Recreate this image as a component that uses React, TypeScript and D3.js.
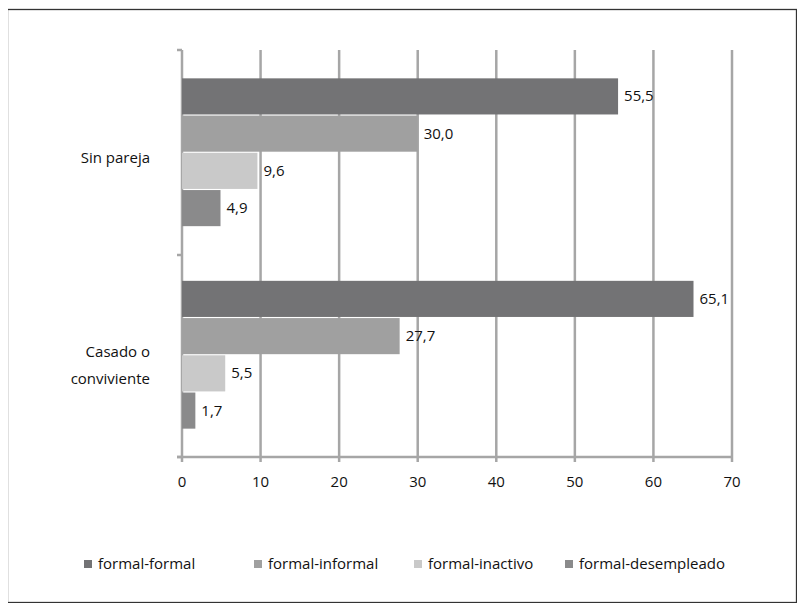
import React from "react";
import * as d3 from "d3";

const categories = ["Sin pareja", "Casado o conviviente"];
const seriesNames = ["formal-formal", "formal-informal", "formal-inactivo", "formal-desempleado"];
const seriesColors = ["#737375", "#a0a0a0", "#c9c9c9", "#8a8a8b"];
const sinPareja = [55.5, 30.0, 9.6, 4.9];
const casado = [65.1, 27.7, 5.5, 1.7];
const xTicks = [0, 10, 20, 30, 40, 50, 60, 70];

export default function App() {
  const values = [sinPareja, casado];
  const x = d3.scaleLinear().domain([0, 70]).range([182, 732]);
  const y = d3.scaleBand().domain(categories).range([50, 457]).paddingInner(0.27).paddingOuter(0.14);
  const inner = d3.scaleBand().domain(seriesNames).range([0, y.bandwidth()]).paddingInner(0.03);
  const font = "'Open Sans', sans-serif";
  const fmt = (v: number) => v.toFixed(1).replace(".", ",");
  const legendX = [84, 254, 414, 565];
  return (
    <div style={{ margin: -8 }}>
      <svg width={805} height={611} style={{ display: "block", fontFamily: font }}>
        <rect x={7.5} y={9.5} width={789} height={593} fill="white" stroke="#333" strokeWidth={1.3} />
        {xTicks.map((t) => (
          <g key={t}>
            <line x1={x(t)} x2={x(t)} y1={50} y2={462} stroke="#a6a6a6" strokeWidth={2.5} />
            <text x={x(t)} y={487} textAnchor="middle" fontSize={15} fill="#111">{t}</text>
          </g>
        ))}
        <line x1={177} x2={732} y1={457} y2={457} stroke="#a6a6a6" strokeWidth={2.5} />
        {[50, 255, 457].map((v) => (
          <line key={v} x1={177} x2={182} y1={v} y2={v} stroke="#a6a6a6" strokeWidth={2.5} />
        ))}
        {categories.map((c, ci) => (
          <g key={c}>
            {seriesNames.map((s, si) => {
              const v = values[ci][si];
              const yy = (y(c) as number) + (inner(s) as number);
              return (
                <g key={s}>
                  <rect x={x(0)} y={yy} width={x(v) - x(0)} height={inner.bandwidth()} fill={seriesColors[si]} />
                  <text x={x(v) + 6} y={yy + inner.bandwidth() / 2 + 5} fontSize={15} fill="#111">{fmt(v)}</text>
                </g>
              );
            })}
          </g>
        ))}
        <text x={150} y={163} textAnchor="end" fontSize={15} fill="#111">Sin pareja</text>
        <text x={150} y={357} textAnchor="end" fontSize={15} fill="#111">Casado o</text>
        <text x={150} y={384} textAnchor="end" fontSize={15} fill="#111">conviviente</text>
        {seriesNames.map((s, i) => (
          <g key={s}>
            <rect x={legendX[i]} y={560} width={8} height={8} fill={seriesColors[i]} />
            <text x={legendX[i] + 14} y={569} fontSize={15} fill="#111">{s}</text>
          </g>
        ))}
      </svg>
    </div>
  );
}
